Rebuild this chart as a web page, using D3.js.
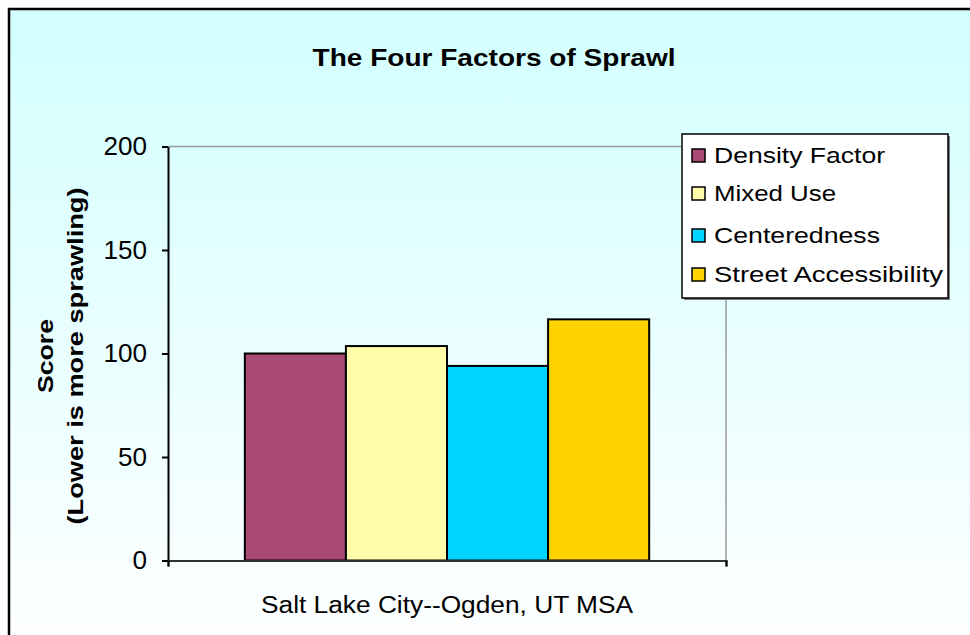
<!DOCTYPE html>
<html>
<head>
<meta charset="utf-8">
<script src="https://cdn.jsdelivr.net/npm/d3@7"></script>
<style>
  body { margin: 0; background: #fff; }
  text { font-family: "Liberation Sans", Arial, sans-serif; fill: #000; }
</style>
</head>
<body>
<div id="chart"></div>
<script>
// data
const category = 'Salt Lake City--Ogden, UT MSA';
const factors = ['Density Factor', 'Mixed Use', 'Centeredness', 'Street Accessibility'];
const scores = [100, 103.6, 94, 116.5];
const colors = ['#a84a74', '#fffcaa', '#00d3ff', '#ffd300'];
const yTicks = [0, 50, 100, 150, 200];
// widths of the legend labels in the original bitmap font
const legendWidths = [171, 122, 166, 229];

const width = 970, height = 635;
const plot = { left: 168, right: 726, top: 146.5, bottom: 560.5 };

const svg = d3.select('#chart').append('svg')
  .attr('width', width)
  .attr('height', height);

// background gradient
const grad = svg.append('defs').append('linearGradient')
  .attr('id', 'bg').attr('x1', 0).attr('y1', 0).attr('x2', 0).attr('y2', 1);
grad.append('stop').attr('offset', '0%').attr('stop-color', '#d2ffff');
grad.append('stop').attr('offset', '100%').attr('stop-color', '#ffffff');

svg.append('rect')
  .attr('x', 9).attr('y', 9)
  .attr('width', 975).attr('height', 650)
  .attr('fill', 'url(#bg)')
  .attr('stroke', '#000')
  .attr('stroke-width', 2.5);

// title
svg.append('text')
  .attr('x', 494).attr('y', 66)
  .attr('text-anchor', 'middle')
  .attr('textLength', 363)
  .attr('lengthAdjust', 'spacingAndGlyphs')
  .style('font-weight', 'bold')
  .style('font-size', '24px')
  .text('The Four Factors of Sprawl');

const y = d3.scaleLinear().domain([0, 200]).range([plot.bottom, plot.top]);
const x0 = d3.scaleBand().domain([category]).range([plot.left, plot.right]).paddingInner(0).paddingOuter(0.19);
const x1 = d3.scaleBand().domain(factors).range([0, x0.bandwidth()]);

// plot area frame (gray top/right)
svg.append('path')
  .attr('d', `M${plot.left},${plot.top}H${plot.right}V${plot.bottom}`)
  .attr('fill', 'none')
  .attr('stroke', '#9a9a9a')
  .attr('stroke-width', 1.5);

// bars
svg.append('g')
  .selectAll('rect')
  .data(factors)
  .join('rect')
  .attr('x', d => x0(category) + x1(d))
  .attr('y', (d, i) => y(scores[i]))
  .attr('width', x1.bandwidth())
  .attr('height', (d, i) => y(0) - y(scores[i]))
  .attr('fill', (d, i) => colors[i])
  .attr('stroke', '#000')
  .attr('stroke-width', 2);

// y axis
const yAxis = svg.append('g')
  .attr('transform', `translate(${plot.left},0)`)
  .call(d3.axisLeft(y).tickValues(yTicks).tickSize(6).tickPadding(15).tickSizeOuter(0));
yAxis.select('.domain').attr('stroke', '#000').attr('stroke-width', 2);
yAxis.selectAll('.tick line').attr('stroke', '#000').attr('stroke-width', 2);
yAxis.selectAll('.tick text')
  .attr('textLength', d => String(d).length * 14.5)
  .attr('lengthAdjust', 'spacingAndGlyphs')
  .style('font-size', '25px')
  .style('font-family', '"Liberation Sans", Arial, sans-serif');

// x axis
const xAxis = svg.append('g')
  .attr('transform', `translate(0,${plot.bottom})`)
  .call(d3.axisBottom(d3.scaleLinear().domain([0, 1]).range([plot.left, plot.right]))
    .tickValues([0, 1]).tickSize(6).tickFormat(''));
xAxis.select('.domain').attr('stroke', '#333').attr('stroke-width', 2);
xAxis.selectAll('.tick line').attr('stroke', '#000').attr('stroke-width', 2);

svg.append('text')
  .attr('x', x0(category) + x0.bandwidth() / 2)
  .attr('y', 613)
  .attr('text-anchor', 'middle')
  .attr('textLength', 372)
  .attr('lengthAdjust', 'spacingAndGlyphs')
  .style('font-size', '23px')
  .text(category);

// y axis title
const yTitle = svg.append('text')
  .attr('transform', 'translate(0,356) rotate(-90)')
  .attr('text-anchor', 'middle')
  .style('font-weight', 'bold')
  .style('font-size', '22px');
yTitle.append('tspan').attr('x', 0).attr('y', 53)
  .attr('textLength', 74).attr('lengthAdjust', 'spacingAndGlyphs')
  .text('Score');
yTitle.append('tspan').attr('x', 0).attr('y', 83)
  .attr('textLength', 337).attr('lengthAdjust', 'spacingAndGlyphs')
  .text('(Lower is more sprawling)');

// legend
const legend = svg.append('g').attr('transform', 'translate(682,134)');
legend.append('rect')
  .attr('x', 2).attr('y', 2).attr('width', 266).attr('height', 164)
  .attr('fill', '#777');
legend.append('rect')
  .attr('width', 266).attr('height', 164)
  .attr('fill', '#fff')
  .attr('stroke', '#000')
  .attr('stroke-width', 1.5);
const rowY = [21, 59, 101, 140];
const items = legend.selectAll('g.item')
  .data(factors)
  .join('g')
  .attr('class', 'item')
  .attr('transform', (d, i) => `translate(0,${rowY[i]})`);
items.append('rect')
  .attr('x', 10).attr('y', -6)
  .attr('width', 13).attr('height', 13)
  .attr('fill', (d, i) => colors[i])
  .attr('stroke', '#000')
  .attr('stroke-width', 1.5);
items.append('text')
  .attr('x', 32).attr('y', 8)
  .attr('textLength', (d, i) => legendWidths[i])
  .attr('lengthAdjust', 'spacingAndGlyphs')
  .style('font-size', '22px')
  .text(d => d);
</script>
</body>
</html>
